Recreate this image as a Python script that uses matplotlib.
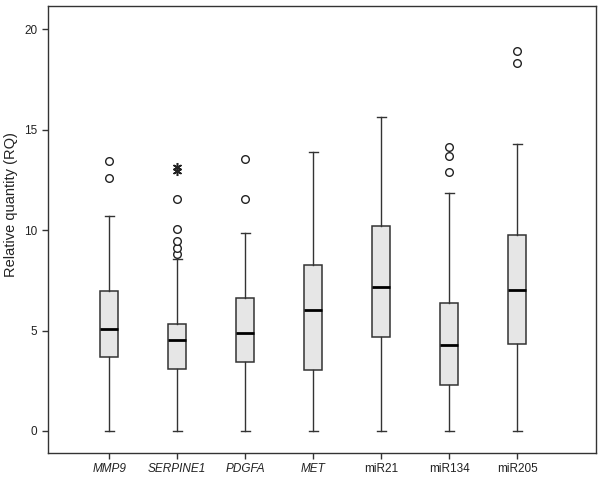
import matplotlib
matplotlib.use("Agg")
import matplotlib.pyplot as plt

plt.rcParams['font.family'] = ['Liberation Sans', 'DejaVu Sans']

categories = ["MMP9", "SERPINE1", "PDGFA", "MET", "miR21", "miR134", "miR205"]
italic = [True, True, True, True, False, False, False]
whisker_low = [0, 0, 0, 0, 0, 0, 0]
q1 = [3.69, 3.10, 3.42, 3.04, 4.68, 2.29, 4.32]
median = [5.08, 4.52, 4.87, 6.01, 7.19, 4.27, 7.01]
q3 = [6.96, 5.34, 6.61, 8.27, 10.21, 6.36, 9.78]
whisker_high = [10.72, 8.55, 9.86, 13.88, 15.62, 11.87, 14.31]
outliers = [
    [12.58, 13.45],
    [8.83, 9.10, 9.48, 10.06, 11.55],
    [11.55, 13.53],
    [],
    [],
    [12.90, 13.71, 14.16],
    [18.34, 18.92],
]
extremes = [[], [12.96, 13.16], [], [], [], [], []]
yticks = [0, 5, 10, 15, 20]

fig = plt.figure(figsize=(6.02, 4.78), dpi=100)
ax = fig.add_axes([48/602, 25/478, 548/602, 447/478])

stats = []
for i, name in enumerate(categories):
    stats.append(dict(med=median[i], q1=q1[i], q3=q3[i],
                      whislo=whisker_low[i], whishi=whisker_high[i],
                      fliers=outliers[i], label=name))

positions = list(range(1, len(categories) + 1))
edge = '#333333'
ax.bxp(stats, positions=positions, widths=0.27, patch_artist=True,
       showfliers=True,
       boxprops=dict(facecolor='#e6e6e6', edgecolor=edge, linewidth=1.1),
       medianprops=dict(color='black', linewidth=2.0),
       whiskerprops=dict(color=edge, linewidth=1.0),
       capprops=dict(color=edge, linewidth=1.0),
       capwidths=0.13,
       flierprops=dict(marker='o', markersize=5.5, markerfacecolor='white',
                       markeredgecolor='#222222', markeredgewidth=1.0,
                       linestyle='none'))

for i, ex in enumerate(extremes):
    if ex:
        ax.plot([positions[i]] * len(ex), ex, linestyle='none',
                marker=(6, 2, 0), markersize=6.5, color='#222222',
                markeredgewidth=1.1)

ax.set_xlim(0.10, 8.16)
ax.set_ylim(-1.1, 21.17)
ax.set_yticks(yticks)
ax.set_yticklabels([str(t) for t in yticks], fontsize=8.5, color='#222222')
ax.set_xticks(positions)
ax.set_xticklabels(categories, fontsize=8.5, color='#222222')
for lab, it in zip(ax.get_xticklabels(), italic):
    if it:
        lab.set_fontstyle('italic')
ax.tick_params(axis='both', direction='out', length=4, width=1, color='#333333')
for s in ax.spines.values():
    s.set_color('#333333')
    s.set_linewidth(1.0)
ax.set_ylabel("Relative quantity (RQ)", fontsize=10.5, color='#222222')
ax.yaxis.set_label_coords(-0.0547, 0.555)

fig.savefig("out.png", dpi=100)
